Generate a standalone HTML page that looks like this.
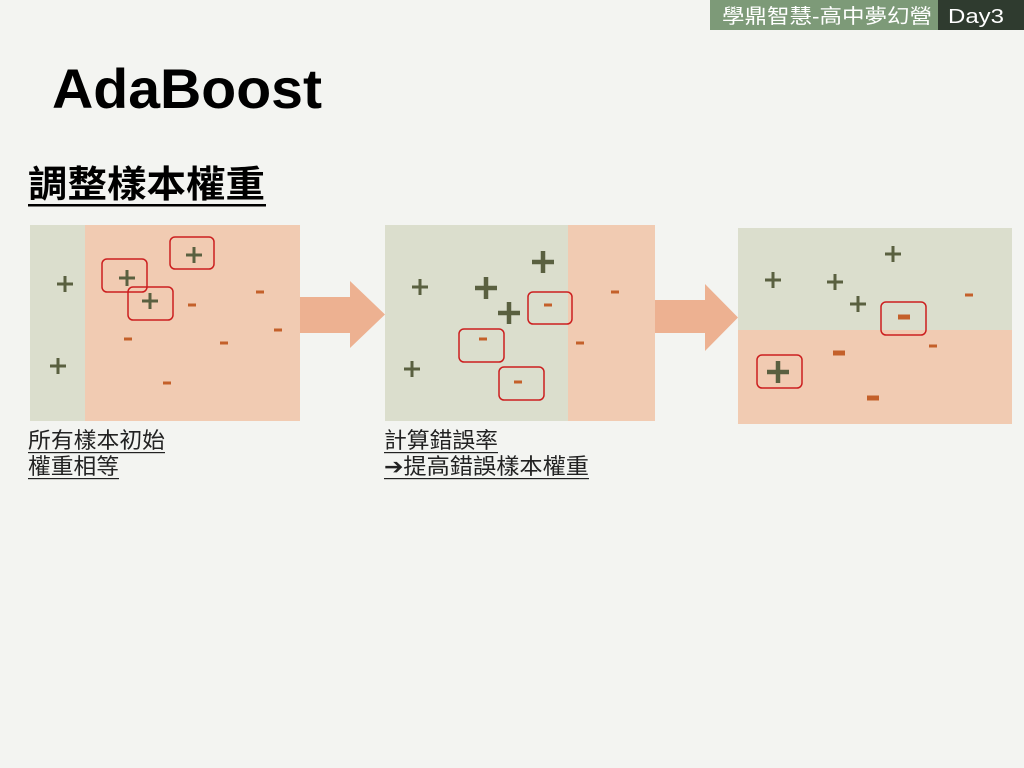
<!DOCTYPE html>
<html><head><meta charset="utf-8"><style>
body{margin:0;width:1024px;height:768px;background:#f3f4f1;overflow:hidden}
svg{display:block}
text{font-family:"Liberation Sans","Noto Sans CJK TC",sans-serif}
</style></head><body>
<svg width="1024" height="768" viewBox="0 0 1024 768" xmlns="http://www.w3.org/2000/svg">
<defs>
<g id="p"><path d="M-8 0H8M0 -8V8" stroke="#5a6040" stroke-width="3"/></g>
<g id="P"><path d="M-11 0H11M0 -11V11" stroke="#5a6040" stroke-width="4.5"/></g>
<g id="m"><rect x="-4" y="-1.5" width="8" height="3" fill="#c4602a"/></g>
<g id="M"><rect x="-6" y="-2.5" width="12" height="5" fill="#c4602a"/></g>
</defs>
<rect x="710" y="0" width="228" height="30" fill="#7d9a78"/>
<rect x="938" y="0" width="86" height="30" fill="#2f3b2f"/>
<text x="722" y="23" fill="#fff" font-size="20" textLength="210" lengthAdjust="spacingAndGlyphs">學鼎智慧-高中夢幻營</text>
<text x="948" y="23" fill="#fff" font-size="20" textLength="56" lengthAdjust="spacingAndGlyphs">Day3</text>
<text x="52" y="108" font-size="56" font-weight="bold" fill="#000" textLength="270" lengthAdjust="spacingAndGlyphs">AdaBoost</text>
<text x="28" y="197" font-size="37" font-weight="bold" fill="#000" textLength="237" lengthAdjust="spacingAndGlyphs">調整樣本權重</text>
<rect x="28" y="204" width="238" height="2.5" fill="#000"/>
<rect x="30" y="225" width="270" height="196" fill="#f1cbb2"/>
<rect x="30" y="225" width="55" height="196" fill="#dbdecd"/>
<path d="M300 297H350V281L385 314.5L350 348V333H300Z" fill="#edb191"/>
<path d="M655 300H705V284L738 317.5L705 351V333H655Z" fill="#edb191"/>
<use href="#p" x="65" y="284"/><use href="#p" x="58" y="366"/>
<use href="#p" x="127" y="278"/><use href="#p" x="150" y="301"/><use href="#p" x="194" y="255"/>
<g fill="none" stroke="#cc1f1f" stroke-width="1.5">
<rect x="102" y="259" width="45" height="33" rx="5"/>
<rect x="128" y="287" width="45" height="33" rx="5"/>
<rect x="170" y="237" width="44" height="32" rx="5"/>
</g>
<use href="#m" x="192" y="305"/><use href="#m" x="260" y="292"/><use href="#m" x="278" y="330"/>
<use href="#m" x="128" y="339"/><use href="#m" x="224" y="343"/><use href="#m" x="167" y="383"/>
<rect x="385" y="225" width="270" height="196" fill="#f1cbb2"/>
<rect x="385" y="225" width="183" height="196" fill="#dbdecd"/>
<use href="#p" x="420" y="287"/><use href="#p" x="412" y="369"/>
<use href="#P" x="486" y="288"/><use href="#P" x="543" y="262"/><use href="#P" x="509" y="313"/>
<g fill="none" stroke="#cc1f1f" stroke-width="1.5">
<rect x="528" y="292" width="44" height="32" rx="5"/>
<rect x="459" y="329" width="45" height="33" rx="5"/>
<rect x="499" y="367" width="45" height="33" rx="5"/>
</g>
<use href="#m" x="548" y="305"/><use href="#m" x="483" y="339"/><use href="#m" x="518" y="382"/>
<use href="#m" x="615" y="292"/><use href="#m" x="580" y="343"/>
<rect x="738" y="228" width="274" height="196" fill="#f1cbb2"/>
<rect x="738" y="228" width="274" height="102" fill="#dbdecd"/>
<use href="#p" x="773" y="280"/><use href="#p" x="835" y="282"/><use href="#p" x="858" y="304"/><use href="#p" x="893" y="254"/>
<use href="#m" x="969" y="295"/><use href="#m" x="933" y="346"/>
<use href="#M" x="839" y="353"/><use href="#M" x="873" y="398"/><use href="#M" x="904" y="317"/>
<use href="#P" x="778" y="372"/>
<g fill="none" stroke="#cc1f1f" stroke-width="1.5">
<rect x="881" y="302" width="45" height="33" rx="5"/>
<rect x="757" y="355" width="45" height="33" rx="5"/>
</g>
<g font-size="22" fill="#222">
<text x="28" y="448" textLength="137" lengthAdjust="spacingAndGlyphs">所有樣本初始</text>
<text x="28" y="474" textLength="91" lengthAdjust="spacingAndGlyphs">權重相等</text>
<text x="384" y="448" textLength="114" lengthAdjust="spacingAndGlyphs">計算錯誤率</text>
<text x="384" y="474" textLength="205" lengthAdjust="spacingAndGlyphs">➔提高錯誤樣本權重</text>
</g>
<g fill="#222">
<rect x="28" y="452" width="137" height="1.2"/>
<rect x="28" y="478" width="91" height="1.2"/>
<rect x="384" y="452" width="114" height="1.2"/>
<rect x="384" y="478" width="205" height="1.2"/>
</g>
</svg>
</body></html>
